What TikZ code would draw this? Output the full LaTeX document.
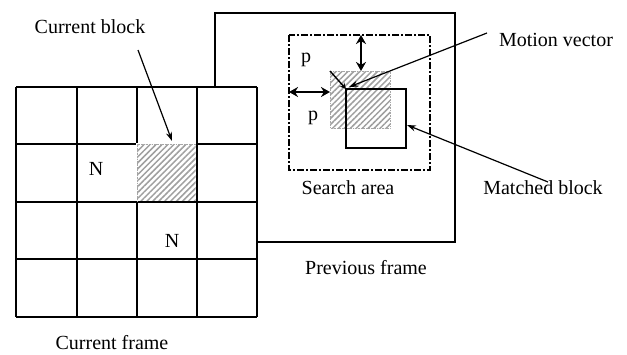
\documentclass[tikz,border=0pt]{standalone}
\usepackage{fontspec}
\setmainfont{Liberation Serif}
\usetikzlibrary{arrows.meta,patterns.meta}
\begin{document}
\begin{tikzpicture}[x=1pt,y=-1pt,
  lbl/.style={font=\fontsize{20}{23}\selectfont, inner sep=0pt},
  gridline/.style={line width=2.5pt},
  frameline/.style={line width=2.2pt},
  hatch/.style={pattern={Lines[angle=45, distance=4.2pt, line width=1.5pt]}, pattern color=gray!75},
  hborder/.style={gray!70, densely dotted, line width=0.6pt},
  ptr/.style={line width=1.2pt, -{Stealth[length=9pt,width=6pt]}},
  dbl/.style={line width=2.2pt, {Stealth[length=9pt,width=10pt]}-{Stealth[length=9pt,width=10pt]}}
]
\useasboundingbox (0,0) rectangle (627,354);
% previous frame
\draw[frameline] (215,13) rectangle (455,242);
% search area
\draw[line width=2.6pt, dash pattern=on 7pt off 2pt on 2pt off 2pt] (289,35) rectangle (430,170);
% co-located block in previous frame
\fill[hatch] (330,71) rectangle (390,128);
\draw[hborder] (330,71) rectangle (390,128);
\coordinate (hb) at (330,71);
% matched block
\draw[frameline] (346,89) rectangle (406,148);
\coordinate (mb) at (346,89);
% motion vector
\draw[line width=1.4pt, -{Stealth[length=6pt,width=6pt]}] (hb) -- (mb);
% p arrows
\coordinate (sT) at (361,35); \coordinate (hT) at (361,71);
\coordinate (sL) at (289,92); \coordinate (hL) at (330,92);
\draw[dbl] (sT) -- (hT);
\draw[dbl] (sL) -- (hL);
\node[lbl] (p1) at (306,60) {p};
\node[lbl] (p2) at (313,118) {p};
% current frame grid
\fill[white] (16,87) rectangle (257,317);
\foreach \x in {16,77,137,197,257} \draw[gridline] (\x,87) -- (\x,317);
\foreach \y in {87,144,202,259,317} \draw[gridline] (16,\y) -- (257,\y);
% current block (drawn over its left and top grid lines)
\fill[white] (135.6,142.6) rectangle (195.7,200.7);
\fill[hatch] (137,144) rectangle (195.7,200.7);
\draw[hborder] (195.7,144) -- (137,144) -- (137,200.7);
\node[lbl] (n1) at (96,169) {N};
\node[lbl] (n2) at (172,241) {N};
% labels
\node[lbl] (cb) at (90,27) {Current block};
\coordinate (cbs) at (138,50);
\coordinate (cbe) at (172,141);
\draw[ptr] (cbs) -- (cbe);
\node[lbl] (cf) at (112,343) {Current frame};
\node[lbl] (pf) at (366,268) {Previous frame};
\node[lbl] (sa) at (348,188) {Search area};
\node[lbl] (mv) at (556,40) {Motion vector};
\coordinate (mvs) at (487,33);
\coordinate (mve) at (349,87);
\draw[ptr] (mvs) -- (mve);
\node[lbl] (mt) at (543,188) {Matched block};
\coordinate (mts) at (548,182);
\coordinate (mte) at (407,125);
\draw[ptr] (mts) -- (mte);
\end{tikzpicture}
\end{document}
